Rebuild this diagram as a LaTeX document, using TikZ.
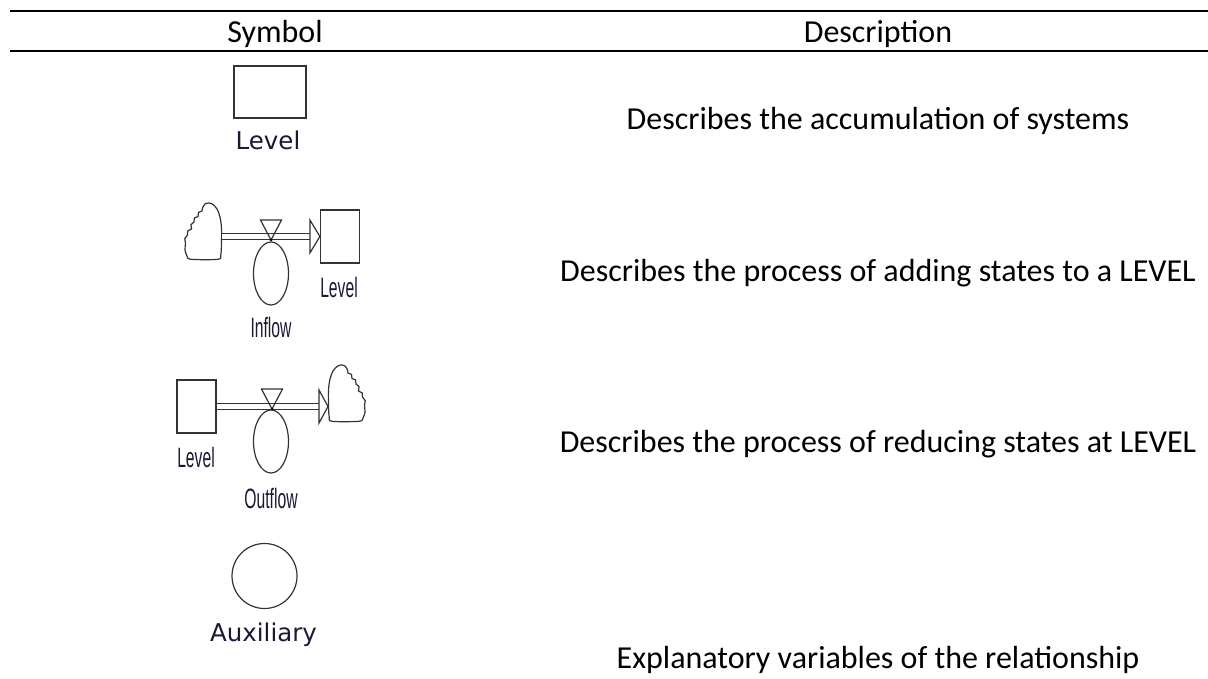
\documentclass[tikz,border=0pt]{standalone}
\usepackage{fontspec}
\usepackage{graphicx}
\setmainfont{Carlito}
\newfontfamily\policevensim{DejaVu Sans}
\newfontfamily\policeetroite{Liberation Sans}
\usetikzlibrary{shapes.geometric}
\definecolor{encre}{RGB}{25,25,55}
\newcommand{\etroit}[1]{\scalebox{0.56}[1]{#1}}
\newcommand{\dessinnuage}{%
  \draw[trait] plot[smooth cycle, tension=0.5] coordinates {(4,56.3) (1.2,52)
    (0.5,40) (0.5,25) (2,14) (5,6) (9,1.5) (13,0) (17,1) (19.5,5) (20,8)
    (23.5,9.5) (24,13.5) (27.6,15) (28,19) (31.1,21.8) (30.5,26) (34.2,27.9)
    (34.5,32) (37.2,35.6) (36.5,40) (37,47) (35,53) (31,56.3)};}

\begin{document}
\begin{tikzpicture}[x=1pt,y=-1pt]
  \tikzstyle{regle}=[line width=1.6pt]
  \tikzstyle{texte}=[font=\fontsize{32}{38}\selectfont, anchor=base, inner sep=0pt]
  \tikzstyle{trait}=[draw=black!80, line width=1.2pt]
  \tikzstyle{niveau}=[rectangle, trait, inner sep=0pt, minimum width=39pt,
  minimum height=53pt]
  \tikzstyle{flux}=[ellipse, trait, inner sep=0pt, minimum width=35pt,
  minimum height=63pt]
  \tikzstyle{tuyau}=[draw=black!80, double, line width=1.2pt, double distance=5.5pt]
  \tikzstyle{etiquette}=[text=encre, anchor=base, inner sep=0pt,
  font=\policevensim\fontsize{24.5}{28}\selectfont]
  \tikzstyle{petite}=[text=encre, anchor=base, inner sep=0pt,
  font=\policeetroite\fontsize{28}{30}\selectfont]
  \useasboundingbox (0,0) rectangle (1208,679);
  \fill[white] (0,0) rectangle (1208,679);
  \draw[regle] (10,11) -- (1208,11);
  \draw[regle] (10,51) -- (1208,51);
  \draw (275,43) node[texte] (symb) {Symbol};
  \draw (878,43) node[texte] (desc) {Description};
  \foreach \n/\y/\t in {d1/130/Describes the accumulation of systems,
    d2/282/Describes the process of adding states to a LEVEL,
    d3/452/Describes the process of reducing states at LEVEL,
    d4/668/Explanatory variables of the relationship} {
    \draw (878,\y) node[texte] (\n) {\t};
  }
  % niveau
  \draw (270,92) node[niveau, minimum width=72pt, minimum height=52pt] (niv1) {};
  \draw (268,150) node[etiquette] (lab1) {Level};
  % entree
  \draw (340,236.5) node[niveau] (niv2) {};
  \coordinate (nuage2) at (222,236.5);
  \begin{scope}[shift={(222,203)}, xscale=-1]
    \dessinnuage
  \end{scope}
  \draw[tuyau, shorten >=10pt] (nuage2) -- (niv2.west);
  \draw[trait, fill=white] (niv2.west) -- ++(-10,-16.5) -- ++(0,33) -- cycle;
  \draw[trait] (271,240) -- ++(-10.5,-20) -- ++(21,0) -- cycle;
  \fill (271,240) circle (1.5pt);
  \draw (271,273.5) node[flux] (flux2) {};
  \draw (339,298) node[petite] (lab2) {\etroit{Level}};
  \draw (271,337) node[petite] (lab3) {\etroit{Inflow}};
  % sortie
  \draw (196.5,406.5) node[niveau] (niv3) {};
  \coordinate (nuage3) at (328,406.5);
  \begin{scope}[shift={(328,365)}]
    \dessinnuage
  \end{scope}
  \draw[tuyau, shorten >=9pt] (niv3.east) -- (nuage3);
  \draw[trait, fill=white] (nuage3) -- ++(-9,-16.5) -- ++(0,33) -- cycle;
  \draw[trait] (272,409) -- ++(-10.5,-20) -- ++(21,0) -- cycle;
  \fill (272,409) circle (1.5pt);
  \draw (271,441.5) node[flux] (flux3) {};
  \draw (196,467) node[petite] (lab4) {\etroit{Level}};
  \draw (271,508) node[petite] (lab5) {\etroit{Outflow}};
  % auxiliaire
  \draw (264.5,576) node[circle, trait, minimum size=65pt, inner sep=0pt] (aux) {};
  \draw (263.5,641) node[etiquette] (lab6) {Auxiliary};
\end{tikzpicture}
\end{document}
